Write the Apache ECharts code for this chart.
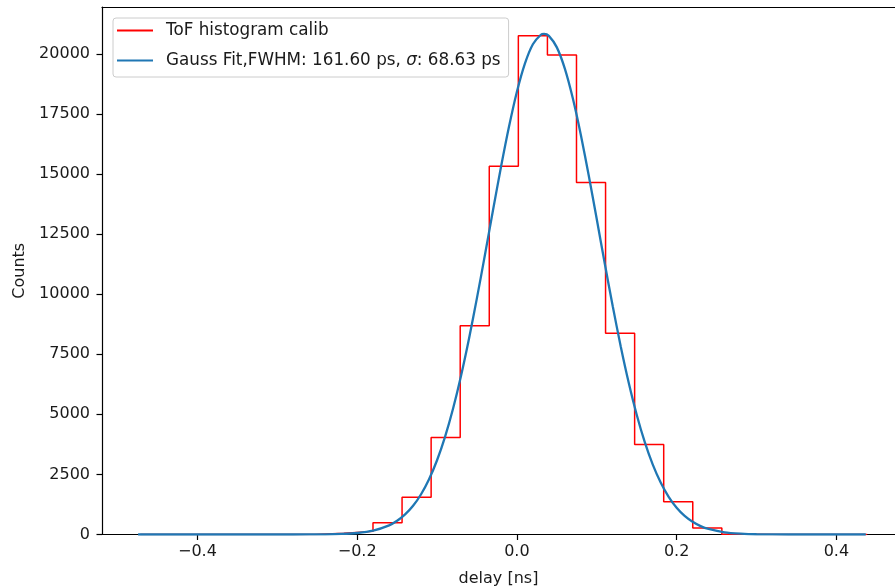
<!DOCTYPE html>
<html lang="en">
<head>
    <meta charset="UTF-8">
    <title>ToF histogram</title>
    <script src="https://cdn.jsdelivr.net/npm/echarts@6/dist/echarts.min.js"></script>
    <style>
        html, body { margin: 0; padding: 0; background: #fff; }
        #main { width: 895px; height: 588px; }
    </style>
</head>
<body>
<div id="main"></div>
<script>
    // histogram bin edges [ns] and counts per bin
    var binEdges = [-0.4714, -0.4350, -0.3986, -0.3622, -0.3258, -0.2894, -0.2530, -0.2166, -0.1802,
        -0.1438, -0.1074, -0.0710, -0.0346, 0.0018, 0.0382, 0.0746, 0.1110, 0.1474, 0.1838,
        0.2202, 0.2566, 0.2930, 0.3294, 0.3658, 0.4022, 0.4386];
    var binCounts = [0, 0, 0, 0, 0, 0, 50, 130, 490, 1555, 4040, 8690, 15320, 20750, 19950,
        14650, 8375, 3750, 1360, 275, 15, 0, 0, 0, 0];

    // gauss fit curve
    var fitX = [-0.4743, -0.35, -0.30, -0.26, -0.24, -0.22, -0.20, -0.18, -0.16, -0.15, -0.14, -0.13,
        -0.12, -0.11, -0.10, -0.09, -0.08, -0.07, -0.06, -0.05, -0.04, -0.03, -0.02, -0.01, 0.00,
        0.01, 0.02, 0.03, 0.034, 0.04, 0.05, 0.06, 0.07, 0.08, 0.09, 0.10, 0.11, 0.12, 0.13, 0.14,
        0.15, 0.16, 0.17, 0.18, 0.19, 0.20, 0.21, 0.22, 0.23, 0.24, 0.26, 0.28, 0.30, 0.34, 0.4368];
    var fitY = [0, 0, 0, 2, 7, 22, 62, 160, 380, 570, 835, 1195, 1675, 2300, 3090, 4065, 5235, 6600,
        8145, 9845, 11640, 13480, 15280, 16955, 18425, 19595, 20400, 20795, 20830, 20750, 20270,
        19385, 18150, 16635, 14925, 13115, 11275, 9495, 7825, 6315, 4985, 3855, 2920, 2165, 1570,
        1115, 775, 530, 350, 230, 90, 35, 10, 0, 0];

    var xTicks = [-0.4, -0.2, 0.0, 0.2, 0.4];
    var yTicks = [0, 2500, 5000, 7500, 10000, 12500, 15000, 17500, 20000];

    var histName = 'ToF histogram calib';
    var fitName = 'Gauss Fit,FWHM: 161.60 ps, σ: 68.63 ps';

    // step outline like matplotlib histtype='step'
    var histPts = [[binEdges[0], 0]];
    for (var i = 0; i < binCounts.length; i++) {
        histPts.push([binEdges[i], binCounts[i]]);
        histPts.push([binEdges[i + 1], binCounts[i]]);
    }
    histPts.push([binEdges[binEdges.length - 1], 0]);

    var fitPts = fitX.map(function (x, k) { return [x, fitY[k]]; });

    var font = 'DejaVu Sans';
    var fs = 16;
    var lfs = 16.8;
    var txt = '#1a1a1a';

    var chart = echarts.init(document.getElementById('main'));
    chart.setOption({
        animation: false,
        backgroundColor: '#fff',
        grid: { left: 102, right: 0, top: 7, bottom: 53.5, containLabel: false, outerBoundsMode: 'none' },
        legend: {
            orient: 'vertical',
            left: 113,
            top: 18,
            data: [histName, fitName],
            icon: 'rect',
            itemWidth: 36,
            itemHeight: 2,
            itemGap: 13,
            padding: [4, 8, 8, 4],
            backgroundColor: 'rgba(255,255,255,0.85)',
            borderColor: '#cccccc',
            borderWidth: 1,
            borderRadius: 3,
            textStyle: {
                fontFamily: font,
                fontSize: lfs,
                color: txt,
                padding: [0, 0, 0, 8],
                rich: {
                    i: { fontFamily: font, fontSize: lfs, fontStyle: 'italic', color: txt }
                }
            },
            formatter: function (name) {
                if (name === fitName) return 'Gauss Fit,FWHM: 161.60 ps, {i|σ}: 68.63 ps';
                return name;
            }
        },
        xAxis: [{
            type: 'value',
            position: 'bottom',
            min: -0.5195,
            max: 0.4734,
            name: 'delay [ns]',
            nameLocation: 'middle',
            nameGap: 36,
            nameTextStyle: { fontFamily: font, fontSize: fs, color: txt },
            axisLine: { show: true, onZero: false, lineStyle: { color: '#000', width: 1.2 } },
            axisTick: { show: true, length: 5.5, lineStyle: { color: '#000', width: 1.2 }, customValues: xTicks },
            axisLabel: {
                margin: 9,
                fontFamily: font,
                fontSize: fs,
                color: txt,
                customValues: xTicks,
                formatter: function (v) {
                    return (v < 0 ? '\u2212' : '') + Math.abs(v).toFixed(1);
                }
            },
            splitLine: { show: false }
        }, {
            type: 'value',
            position: 'top',
            min: -0.5195,
            max: 0.4734,
            axisLine: { show: true, onZero: false, lineStyle: { color: '#000', width: 1.2 } },
            axisTick: { show: false },
            axisLabel: { show: false },
            splitLine: { show: false }
        }],
        yAxis: {
            type: 'value',
            min: 0,
            max: 21950,
            name: 'Counts',
            nameLocation: 'middle',
            nameGap: 72,
            nameTextStyle: { fontFamily: font, fontSize: fs, color: txt },
            axisLine: { show: true, onZero: false, lineStyle: { color: '#000', width: 1.2 } },
            axisTick: { show: true, length: 5.5, lineStyle: { color: '#000', width: 1.2 }, customValues: yTicks },
            axisLabel: {
                margin: 12,
                fontFamily: font,
                fontSize: fs,
                color: txt,
                customValues: yTicks,
                formatter: function (v) { return String(v); }
            },
            splitLine: { show: false }
        },
        series: [{
            name: histName,
            type: 'line',
            xAxisIndex: 0,
            data: histPts,
            showSymbol: false,
            symbol: 'none',
            color: '#ff0000',
            itemStyle: { color: '#ff0000' },
            lineStyle: { color: '#ff0000', width: 1.5 }
        }, {
            name: fitName,
            type: 'line',
            xAxisIndex: 0,
            data: fitPts,
            showSymbol: false,
            symbol: 'none',
            smooth: 0.25,
            color: '#1f77b4',
            itemStyle: { color: '#1f77b4' },
            lineStyle: { color: '#1f77b4', width: 2.3 }
        }]
    });
</script>
</body>
</html>
